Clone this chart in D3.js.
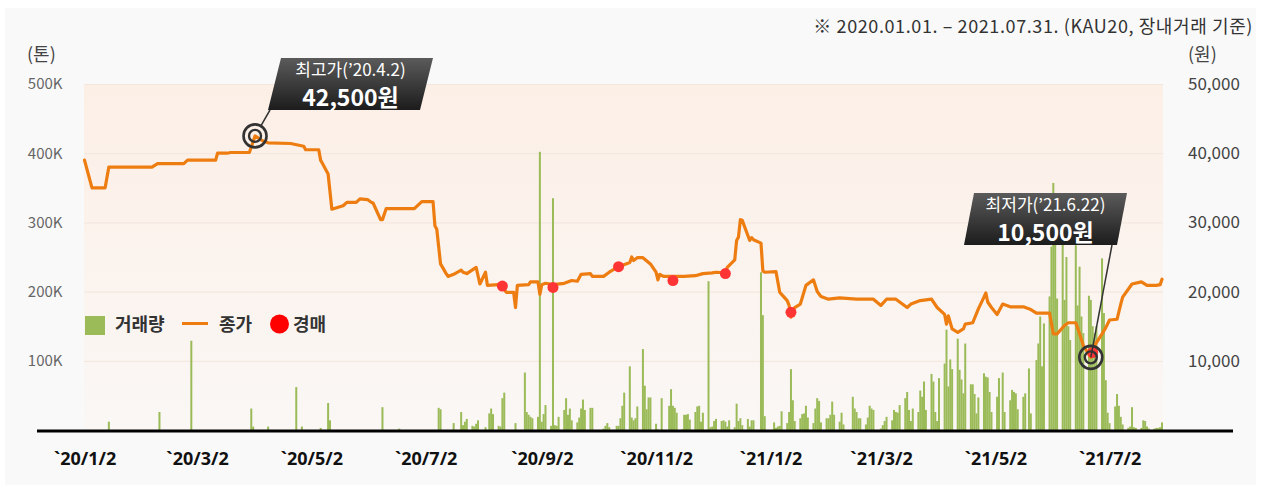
<!DOCTYPE html>
<html>
<head>
<meta charset="utf-8">
<script src="https://cdn.jsdelivr.net/npm/d3@7"></script>
<style>
  body { margin: 0; background: #fff; }
  svg { display: block; font-family: "Noto Sans CJK KR", "Noto Sans", sans-serif; }
</style>
</head>
<body>
<svg id="chart" width="1263" height="486"></svg>
<script>
// KAU20 closing price, volume and auctions, 2020.01 - 2021.07

var closeDates = [
  "2020-01-02","2020-01-06","2020-01-13","2020-01-15","2020-02-07","2020-02-10","2020-02-24","2020-02-26",
  "2020-03-12","2020-03-13","2020-03-18","2020-03-20","2020-03-30","2020-04-02","2020-04-06","2020-04-09",
  "2020-04-21","2020-04-28","2020-04-29","2020-05-06","2020-05-07","2020-05-08","2020-05-11","2020-05-13",
  "2020-05-19","2020-05-21","2020-05-26","2020-05-28","2020-06-01","2020-06-03","2020-06-04","2020-06-08",
  "2020-06-09","2020-06-11","2020-06-26","2020-06-30","2020-07-06","2020-07-07","2020-07-08","2020-07-10",
  "2020-07-13","2020-07-14","2020-07-17","2020-07-21","2020-07-22","2020-07-24","2020-07-29","2020-07-31",
  "2020-08-03","2020-08-04","2020-08-10","2020-08-12","2020-08-14","2020-08-18","2020-08-19","2020-08-20",
  "2020-08-26","2020-08-27","2020-08-31","2020-09-01","2020-09-02","2020-09-04","2020-09-08","2020-09-14",
  "2020-09-18","2020-09-21","2020-09-23","2020-09-28","2020-09-29","2020-10-05","2020-10-08","2020-10-13",
  "2020-10-19","2020-10-20","2020-10-21","2020-10-23","2020-10-26","2020-10-30","2020-11-02","2020-11-03",
  "2020-11-04","2020-11-06","2020-11-17","2020-11-23","2020-11-27","2020-12-02","2020-12-04","2020-12-09",
  "2020-12-10","2020-12-14","2020-12-15","2020-12-16","2020-12-17","2020-12-18","2020-12-21","2020-12-22",
  "2020-12-23","2020-12-24","2020-12-28","2020-12-29","2020-12-30","2021-01-05","2021-01-07","2021-01-08",
  "2021-01-11","2021-01-12","2021-01-13","2021-01-15","2021-01-18","2021-01-21","2021-01-25","2021-01-27",
  "2021-01-29","2021-02-02","2021-02-08","2021-02-17","2021-02-26","2021-03-02","2021-03-05","2021-03-10",
  "2021-03-16","2021-03-18","2021-03-23","2021-03-29","2021-04-01","2021-04-05","2021-04-06","2021-04-07",
  "2021-04-09","2021-04-12","2021-04-15","2021-04-16","2021-04-20","2021-04-23","2021-04-26","2021-04-27",
  "2021-04-28","2021-04-30","2021-05-03","2021-05-06","2021-05-10","2021-05-17","2021-05-21","2021-05-24",
  "2021-05-31","2021-06-02","2021-06-04","2021-06-08","2021-06-10","2021-06-14","2021-06-16","2021-06-18",
  "2021-06-22","2021-06-23","2021-06-24","2021-06-28","2021-06-30","2021-07-02","2021-07-06","2021-07-08",
  "2021-07-09","2021-07-14","2021-07-19","2021-07-22","2021-07-27","2021-07-29","2021-07-30"
];
var closePrices = [
  39000,35000,35000,38000,38000,38500,38500,39000,
  39000,40000,40000,40100,40100,42500,41800,41500,
  41400,41000,40500,40500,39000,38500,37000,31900,
  32400,32900,32900,33400,33300,32900,32800,30400,
  30400,32000,32000,33000,33000,29500,29000,24000,
  22600,22200,22500,23100,22800,22600,23500,21100,
  22800,20900,21000,20800,19900,19900,17700,20900,
  21000,21400,21400,19600,21000,21200,21000,21200,
  21600,21500,22500,22600,22200,22200,22800,23600,
  24200,25000,24500,24900,24900,24000,22800,21700,
  22500,22200,22200,22300,22600,22700,22800,22700,
  23500,24600,27400,27900,30400,30300,28100,27400,
  27800,27500,27000,23000,22800,22900,19900,19600,
  18700,18000,16300,17700,18200,20900,21700,20000,
  19300,18900,19100,18900,18900,18000,18900,18900,
  17700,18200,18700,18900,17700,16700,15300,16500,
  14600,14100,14600,15300,15500,17500,19200,19800,
  18500,17700,16700,18200,17800,17800,17400,16900,
  16900,13900,13900,15100,15500,15500,13900,12200,
  10500,11200,12200,13900,14800,15900,16000,18200,
  19200,21100,21400,20900,20900,21000,21800
];

// daily volume, thousand tons
var volumeDates = [
  "2020-01-15","2020-02-11","2020-02-28","2020-03-31","2020-04-01","2020-04-09","2020-04-24","2020-04-27",
  "2020-05-07","2020-05-11","2020-05-12","2020-06-09","2020-06-18","2020-07-09","2020-07-10","2020-07-17",
  "2020-07-21","2020-07-22","2020-07-23","2020-07-24","2020-07-27","2020-07-28","2020-07-29","2020-07-30",
  "2020-08-03","2020-08-05","2020-08-06","2020-08-07","2020-08-10","2020-08-11","2020-08-12","2020-08-13",
  "2020-08-19","2020-08-24","2020-08-25","2020-08-26","2020-08-27","2020-08-28","2020-08-31","2020-09-01",
  "2020-09-02","2020-09-03","2020-09-04","2020-09-07","2020-09-08","2020-09-09","2020-09-10","2020-09-11",
  "2020-09-14","2020-09-15","2020-09-16","2020-09-17","2020-09-18","2020-09-21","2020-09-22","2020-09-23",
  "2020-09-24","2020-09-25","2020-09-28","2020-09-29","2020-10-05","2020-10-06","2020-10-07","2020-10-08",
  "2020-10-12","2020-10-13","2020-10-14","2020-10-15","2020-10-16","2020-10-19","2020-10-20","2020-10-21",
  "2020-10-22","2020-10-23","2020-10-26","2020-10-27","2020-10-28","2020-10-29","2020-10-30","2020-11-02",
  "2020-11-03","2020-11-05","2020-11-09","2020-11-10","2020-11-11","2020-11-12","2020-11-13","2020-11-16",
  "2020-11-17","2020-11-18","2020-11-19","2020-11-20","2020-11-23","2020-11-24","2020-11-25","2020-11-26",
  "2020-11-27","2020-11-30","2020-12-01","2020-12-02","2020-12-03","2020-12-04","2020-12-07","2020-12-08",
  "2020-12-09","2020-12-10","2020-12-11","2020-12-14","2020-12-15","2020-12-16","2020-12-17","2020-12-18",
  "2020-12-21","2020-12-22","2020-12-23","2020-12-24","2020-12-28","2020-12-29","2020-12-30","2021-01-04",
  "2021-01-05","2021-01-06","2021-01-07","2021-01-08","2021-01-11","2021-01-12","2021-01-13","2021-01-14",
  "2021-01-15","2021-01-18","2021-01-19","2021-01-20","2021-01-21","2021-01-22","2021-01-25","2021-01-26",
  "2021-01-27","2021-01-28","2021-01-29","2021-02-01","2021-02-02","2021-02-03","2021-02-04","2021-02-05",
  "2021-02-08","2021-02-09","2021-02-10","2021-02-15","2021-02-16","2021-02-17","2021-02-18","2021-02-19",
  "2021-02-22","2021-02-23","2021-02-24","2021-02-25","2021-02-26","2021-03-02","2021-03-03","2021-03-04",
  "2021-03-05","2021-03-08","2021-03-09","2021-03-10","2021-03-11","2021-03-12","2021-03-15","2021-03-16",
  "2021-03-17","2021-03-18","2021-03-19","2021-03-22","2021-03-23","2021-03-24","2021-03-25","2021-03-26",
  "2021-03-29","2021-03-30","2021-03-31","2021-04-01","2021-04-02","2021-04-05","2021-04-06","2021-04-07",
  "2021-04-08","2021-04-09","2021-04-12","2021-04-13","2021-04-14","2021-04-15","2021-04-16","2021-04-19",
  "2021-04-20","2021-04-21","2021-04-22","2021-04-23","2021-04-26","2021-04-27","2021-04-28","2021-04-29",
  "2021-04-30","2021-05-03","2021-05-04","2021-05-06","2021-05-07","2021-05-10","2021-05-11","2021-05-12",
  "2021-05-13","2021-05-14","2021-05-17","2021-05-18","2021-05-20","2021-05-21","2021-05-24","2021-05-25",
  "2021-05-26","2021-05-27","2021-05-28","2021-05-31","2021-06-01","2021-06-02","2021-06-03","2021-06-04",
  "2021-06-07","2021-06-08","2021-06-09","2021-06-10","2021-06-11","2021-06-14","2021-06-15","2021-06-16",
  "2021-06-17","2021-06-18","2021-06-21","2021-06-22","2021-06-23","2021-06-24","2021-06-25","2021-06-28",
  "2021-06-29","2021-06-30","2021-07-01","2021-07-02","2021-07-05","2021-07-06","2021-07-07","2021-07-08",
  "2021-07-09","2021-07-12","2021-07-13","2021-07-14","2021-07-15","2021-07-16","2021-07-19","2021-07-20",
  "2021-07-21","2021-07-22","2021-07-23","2021-07-26","2021-07-27","2021-07-28","2021-07-29","2021-07-30"
];
var volumeK = [
  12,26,129,31,5,5,62,5,
  3,39,14,33,2,32,30,10,
  26,7,12,16,6,5,9,14,
  4,24,31,23,6,5,46,54,
  10,83,26,22,19,17,19,402,
  12,23,36,6,335,7,6,19,
  29,46,22,31,14,11,18,31,
  44,29,32,32,2,6,10,4,
  6,6,17,35,54,92,18,14,
  17,34,117,64,30,47,47,9,
  1,46,35,59,35,32,25,1,
  22,22,23,15,26,34,35,12,
  25,215,4,5,13,16,13,14,
  12,5,14,4,38,13,17,7,
  16,5,14,14,228,166,20,11,
  3,5,6,27,10,26,88,43,
  13,17,23,24,35,18,10,31,
  46,42,11,17,17,22,41,22,
  12,25,8,48,31,26,17,17,
  8,18,35,31,29,2,7,13,
  19,14,29,26,25,36,46,55,
  29,13,31,26,57,48,70,29,
  81,70,26,13,75,96,145,63,
  102,88,132,87,73,53,125,66,
  66,52,24,47,82,77,76,55,
  26,48,75,83,26,43,58,55,
  53,30,48,53,89,24,101,125,
  164,92,154,193,265,357,272,190,
  277,188,250,150,130,267,180,236,
  164,140,194,188,150,140,150,248,
  169,72,25,10,34,52,35,19,
  8,3,5,33,4,3,3,14,
  13,5,2,2,3,3,4,11
];

var auctionDates = ["2020-08-12","2020-09-08","2020-10-13","2020-11-11","2020-12-09","2021-01-13","2021-06-23"];
var auctionPrices = [20800,20600,23600,21600,22600,17000,11200];

var tickDates = ["2020-01-02","2020-03-02","2020-05-02","2020-07-02","2020-09-02","2020-11-02",
                 "2021-01-02","2021-03-02","2021-05-02","2021-07-02"];
var tickLabels = ["`20/1/2","`20/3/2","`20/5/2","`20/7/2","`20/9/2","`20/11/2",
                  "`21/1/2","`21/3/2","`21/5/2","`21/7/2"];
var volumeTicks = [100,200,300,400,500];
var priceTicks = [10000,20000,30000,40000,50000];

var highDate = "2020-04-02", highPrice = 42500, highTitle = "최고가(’20.4.2)", highText = "42,500원";
var lowDate = "2021-06-22", lowPrice = 10500, lowTitle = "최저가(’21.6.22)", lowText = "10,500원";

var parse = d3.utcParse("%Y-%m-%d");

var svg = d3.select("#chart");
var plotLeft = 84, plotRight = 1163, plotTop = 84, plotBottom = 430;

var x = d3.scaleUtc()
  .domain([parse("2020-01-02"), parse("2021-07-30")])
  .range([84.5, 1162]);
var yVol = d3.scaleLinear().domain([0, 500]).range([plotBottom, plotTop]);
var yPrice = d3.scaleLinear().domain([0, 50000]).range([plotBottom, plotTop]);

var defs = svg.append("defs");
var bg = defs.append("linearGradient").attr("id", "plotBg")
  .attr("x1", 0).attr("y1", 0).attr("x2", 0).attr("y2", 1);
bg.append("stop").attr("offset", "0%").attr("stop-color", "#fcefe6");
bg.append("stop").attr("offset", "100%").attr("stop-color", "#faf7f5");
var tag = defs.append("linearGradient").attr("id", "tagBg")
  .attr("x1", 0).attr("y1", 0).attr("x2", 0).attr("y2", 1);
tag.append("stop").attr("offset", "0%").attr("stop-color", "#5b5b5b");
tag.append("stop").attr("offset", "100%").attr("stop-color", "#1c1c1c");

// panel + plot background
svg.append("rect").attr("x", 5).attr("y", 8).attr("width", 1251).attr("height", 477).attr("fill", "#f9f9f9");
svg.append("rect").attr("x", plotLeft).attr("y", plotTop)
  .attr("width", plotRight - plotLeft).attr("height", plotBottom - plotTop)
  .attr("fill", "url(#plotBg)");

svg.append("g").selectAll("line").data(volumeTicks).join("line")
  .attr("x1", plotLeft).attr("x2", plotRight)
  .attr("y1", function(d) { return yVol(d) + 0.5; })
  .attr("y2", function(d) { return yVol(d) + 0.5; })
  .attr("stroke", "#f2e6dd");

// volume bars
var volumes = volumeDates.map(function(d, i) { return {date: parse(d), v: volumeK[i]}; });
svg.append("g").selectAll("rect").data(volumes).join("rect")
  .attr("x", function(d) { return x(d.date) - 1; })
  .attr("width", 2)
  .attr("y", function(d) { return yVol(d.v); })
  .attr("height", function(d) { return plotBottom - yVol(d.v); })
  .attr("fill", "#9bbb59");

// closing price
var closes = closeDates.map(function(d, i) { return {date: parse(d), v: closePrices[i]}; });
var line = d3.line()
  .x(function(d) { return x(d.date); })
  .y(function(d) { return yPrice(d.v); });
svg.append("path").datum(closes)
  .attr("d", line)
  .attr("fill", "none")
  .attr("stroke", "#ee7d11")
  .attr("stroke-width", 3.2)
  .attr("stroke-linejoin", "round")
  .attr("stroke-linecap", "round");

// auctions
svg.append("g").selectAll("circle").data(auctionDates).join("circle")
  .attr("cx", function(d) { return x(parse(d)); })
  .attr("cy", function(d, i) { return yPrice(auctionPrices[i]); })
  .attr("r", 5.5)
  .attr("fill", "#ff3535");

// axes
var xAxis = d3.axisBottom(x)
  .tickValues(tickDates.map(parse))
  .tickFormat(function(d, i) { return tickLabels[i]; })
  .tickSize(0).tickPadding(21);
var gx = svg.append("g").attr("transform", "translate(0,431)").call(xAxis);
gx.select(".domain").remove();
gx.selectAll("text").attr("font-size", 18).attr("font-weight", "bold").attr("fill", "#111")
  .attr("font-family", "'Noto Sans', sans-serif");

svg.append("line").attr("x1", 37).attr("x2", 1233).attr("y1", 431).attr("y2", 431)
  .attr("stroke", "#000").attr("stroke-width", 3);

var gl = svg.append("g").attr("transform", "translate(62.5,0)")
  .call(d3.axisLeft(yVol).tickValues(volumeTicks).tickFormat(function(d) { return d + "K"; })
    .tickSize(0).tickPadding(0));
gl.select(".domain").remove();
gl.selectAll("text").attr("font-size", 15).attr("fill", "#666").attr("font-family", "'Noto Sans CJK KR', sans-serif");

var gr = svg.append("g").attr("transform", "translate(1188,0)")
  .call(d3.axisRight(yPrice).tickValues(priceTicks).tickFormat(d3.format(","))
    .tickSize(0).tickPadding(0));
gr.select(".domain").remove();
gr.selectAll("text").attr("font-size", 17).attr("fill", "#444").attr("font-family", "'Noto Sans CJK KR', sans-serif");

svg.append("text").attr("x", 27).attr("y", 61).attr("font-size", 18).attr("fill", "#444").text("(톤)");
svg.append("text").attr("x", 1188).attr("y", 61).attr("font-size", 18).attr("fill", "#444").text("(원)");
svg.append("text").attr("x", 1253).attr("y", 33).attr("text-anchor", "end")
  .attr("font-size", 18).attr("letter-spacing", 0.6).attr("fill", "#333")
  .text("※ 2020.01.01. – 2021.07.31. (KAU20, 장내거래 기준)");

// legend
var lg = svg.append("g").attr("font-size", 18).attr("font-weight", "bold").attr("fill", "#333");
lg.append("rect").attr("x", 85).attr("y", 316).attr("width", 20).attr("height", 19).attr("fill", "#9bbb59");
lg.append("text").attr("x", 115).attr("y", 331).text("거래량");
lg.append("line").attr("x1", 182).attr("x2", 208).attr("y1", 323.5).attr("y2", 323.5)
  .attr("stroke", "#ee7d11").attr("stroke-width", 3);
lg.append("text").attr("x", 219).attr("y", 331).text("종가");
lg.append("circle").attr("cx", 279.5).attr("cy", 324).attr("r", 9.5).attr("fill", "#ff0000");
lg.append("text").attr("x", 293).attr("y", 331).text("경매");

// high / low callouts
function callout(date, price, title, text, box) {
  var cx = x(parse(date)), cy = yPrice(price);
  var g = svg.append("g");
  var bx = box.x, by = box.y, w = box.w, h = box.h, s = box.slant;
  var dx = box.lx - cx, dy = box.ly - cy, len = Math.sqrt(dx * dx + dy * dy);
  g.append("line")
    .attr("x1", cx + dx / len * box.start).attr("y1", cy + dy / len * box.start)
    .attr("x2", box.lx).attr("y2", box.ly)
    .attr("stroke", "#333").attr("stroke-width", 1.5);
  g.append("circle").attr("cx", cx).attr("cy", cy).attr("r", 11.5)
    .attr("fill", "none").attr("stroke", "#333").attr("stroke-width", 2.6);
  g.append("circle").attr("cx", cx).attr("cy", cy).attr("r", 6)
    .attr("fill", "none").attr("stroke", "#333").attr("stroke-width", 2.4);
  g.append("path")
    .attr("d", "M" + (bx + s) + "," + (by - h) + "L" + (bx + s + w) + "," + (by - h) +
               "L" + (bx + w) + "," + by + "L" + bx + "," + by + "Z")
    .attr("fill", "url(#tagBg)");
  var tx = bx + s / 2 + w / 2;
  g.append("text").attr("x", tx).attr("y", by - h + 18).attr("text-anchor", "middle")
    .attr("font-size", 17).attr("fill", "#fff").text(title);
  g.append("text").attr("x", tx).attr("y", by - 4).attr("text-anchor", "middle")
    .attr("font-size", 23).attr("font-weight", "bold").attr("fill", "#fff").text(text);
}

callout(highDate, highPrice, highTitle, highText,
  {x: 268, y: 110, w: 152, h: 52, slant: 13, lx: 270, ly: 110, start: 12});
callout(lowDate, lowPrice, lowTitle, lowText,
  {x: 964, y: 245, w: 153, h: 52, slant: 10, lx: 1112, ly: 245, start: 0});
</script>
</body>
</html>
